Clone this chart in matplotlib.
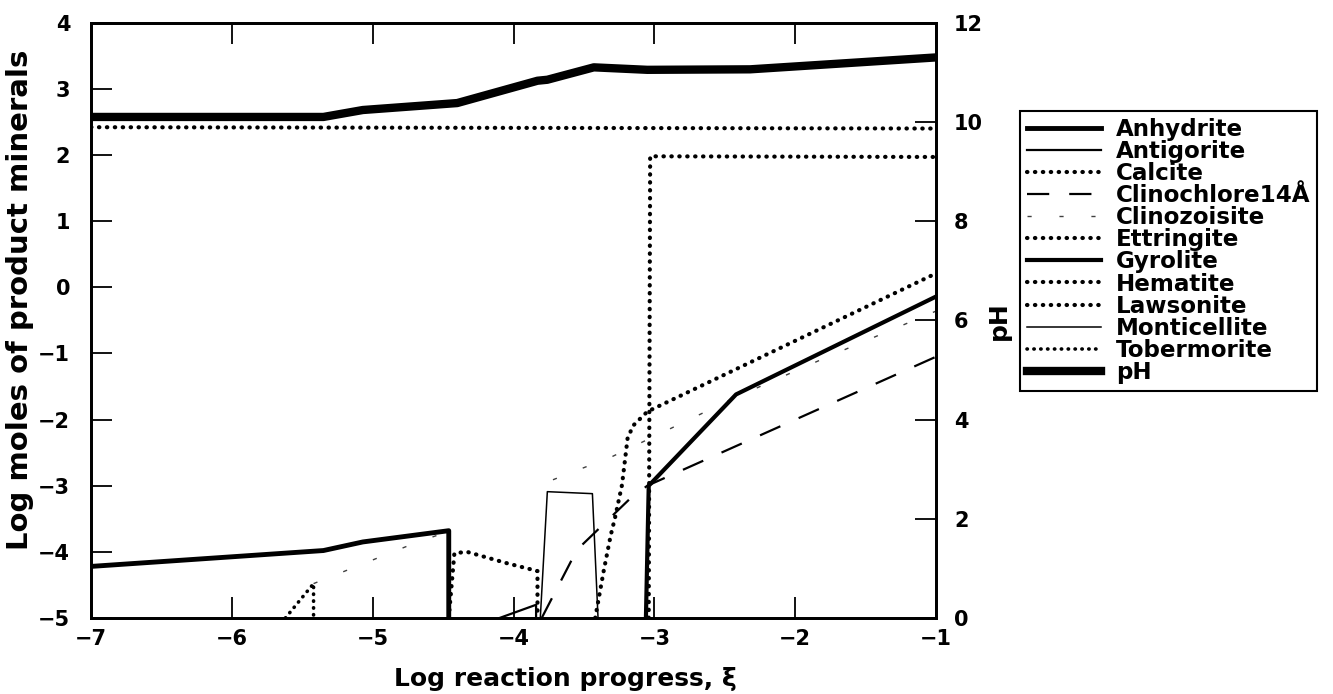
import numpy as np
import matplotlib
matplotlib.use('Agg')
import matplotlib.pyplot as plt

plt.rcParams['font.family'] = ['DejaVu Sans']
plt.rcParams['font.weight'] = 'bold'

nan = np.nan

# log moles of product minerals vs log reaction progress
anhydrite_x = [-7, -5.35, -5.07, -4.46, -4.46]
anhydrite_y = [-4.22, -3.98, -3.85, -3.68, -5]
antigorite_x = [-4.1, -3.84, -3.84]
antigorite_y = [-5, -4.8, -5]
calcite_x = [-7, -1]
calcite_y = [2.42, 2.40]
clinochlore_x = [-3.8, -3.55, -3.17, -3.05, -1]
clinochlore_y = [-5, -3.97, -3.19, -3.0, -1.05]
clinozoisite_x = [-5.42, -4.68, -4.5, nan, -3.72, -3.30, -2.87, -2.42, -1.79, -1.0]
clinozoisite_y = [-4.48, -3.85, -3.72, nan, -2.91, -2.56, -2.12, -1.66, -1.07, -0.36]
ettringite_x = [-4.46, -4.42, -4.33, -4.05, -3.83, -3.83]
ettringite_y = [-5, -4.02, -4.0, -4.17, -4.29, -5]
gyrolite_x = [-3.06, -3.04, -2.42, -1.0]
gyrolite_y = [-5, -3.0, -1.62, -0.14]
hematite_x = [-3.04, -3.03, -1.0]
hematite_y = [-5, 1.98, 1.97]
lawsonite_x = [-3.42, -3.36, -3.31, -3.28, -3.23, -3.19, -3.15, -3.05, -1.0]
lawsonite_y = [-5, -4.29, -3.75, -3.49, -2.99, -2.28, -2.09, -1.88, 0.21]
monticellite_x = [-3.81, -3.76, -3.44, -3.40]
monticellite_y = [-5, -3.09, -3.12, -5]
tobermorite_x = [-5.62, -5.42, -5.42]
tobermorite_y = [-5, -4.48, -5]

# pH on right axis
ph_x = [-7, -5.35, -5.07, -4.40, -3.83, -3.76, -3.43, -3.05, -2.32, -1.0]
ph_y = [10.1, 10.1, 10.24, 10.38, 10.83, 10.85, 11.1, 11.05, 11.06, 11.3]

dots = (0, (0.1, 1.8))

fig = plt.figure(figsize=(13.33, 6.94), dpi=100)
ax = fig.add_axes([0.0683, 0.1095, 0.6339, 0.8578])
ax2 = ax.twinx()

h = []
h += ax.plot(anhydrite_x, anhydrite_y, color='k', lw=3.5, label='Anhydrite')
h += ax.plot(antigorite_x, antigorite_y, color='k', lw=1.6, label='Antigorite')
h += ax.plot(calcite_x, calcite_y, color='k', lw=3, ls=dots, dash_capstyle='round', label='Calcite')
h += ax.plot(clinochlore_x, clinochlore_y, color='k', lw=1.6, ls=(0, (10, 9)), label='Clinochlore14Å')
h += ax.plot(clinozoisite_x, clinozoisite_y, color='0.25', lw=1.0, ls=(0, (3, 20)), label='Clinozoisite')
h += ax.plot(ettringite_x, ettringite_y, color='k', lw=3, ls=dots, dash_capstyle='round', label='Ettringite')
h += ax.plot(gyrolite_x, gyrolite_y, color='k', lw=3, label='Gyrolite')
h += ax.plot(hematite_x, hematite_y, color='k', lw=3, ls=dots, dash_capstyle='round', label='Hematite')
h += ax.plot(lawsonite_x, lawsonite_y, color='k', lw=3, ls=dots, dash_capstyle='round', label='Lawsonite')
h += ax.plot(monticellite_x, monticellite_y, color='k', lw=1.1, label='Monticellite')
h += ax.plot(tobermorite_x, tobermorite_y, color='k', lw=2.6, ls=dots, dash_capstyle='round', label='Tobermorite')
h += ax2.plot(ph_x, ph_y, color='k', lw=6, label='pH')

ax.set_xlim(-7, -1)
ax.set_ylim(-5, 4)
ax2.set_ylim(0, 12)
ax.set_xticks(range(-7, 0))
ax.set_yticks(range(-5, 5))
ax2.set_yticks(range(0, 13, 2))

ax.tick_params(axis='x', direction='in', top=True, length=15, width=1.3, labelsize=15, pad=8)
ax.tick_params(axis='y', direction='in', right=False, length=15, width=1.3, labelsize=15, pad=15)
ax2.tick_params(axis='y', direction='in', length=15, width=1.3, labelsize=15, pad=13)
for a in (ax, ax2):
    for s in a.spines.values():
        s.set_linewidth(2)

ax.set_xlabel('Log reaction progress, ξ', fontsize=18, fontweight='bold')
ax.xaxis.set_label_coords(0.561, -0.082)
ax.set_ylabel('Log moles of product minerals', fontsize=21, fontweight='bold')
ax.yaxis.set_label_coords(-0.068, 0.534)
ax2.set_ylabel('pH', fontsize=18, fontweight='bold', labelpad=3)

leg = fig.legend(handles=h, loc='upper left', bbox_to_anchor=(0.7652, 0.840),
                 fontsize=16.6, handlelength=3.2, handletextpad=0.65, labelspacing=-0.04,
                 borderpad=0.3, borderaxespad=0, fancybox=False, framealpha=1, edgecolor='k')
leg.get_frame().set_linewidth(1.5)

fig.savefig('out.png', dpi=100)
